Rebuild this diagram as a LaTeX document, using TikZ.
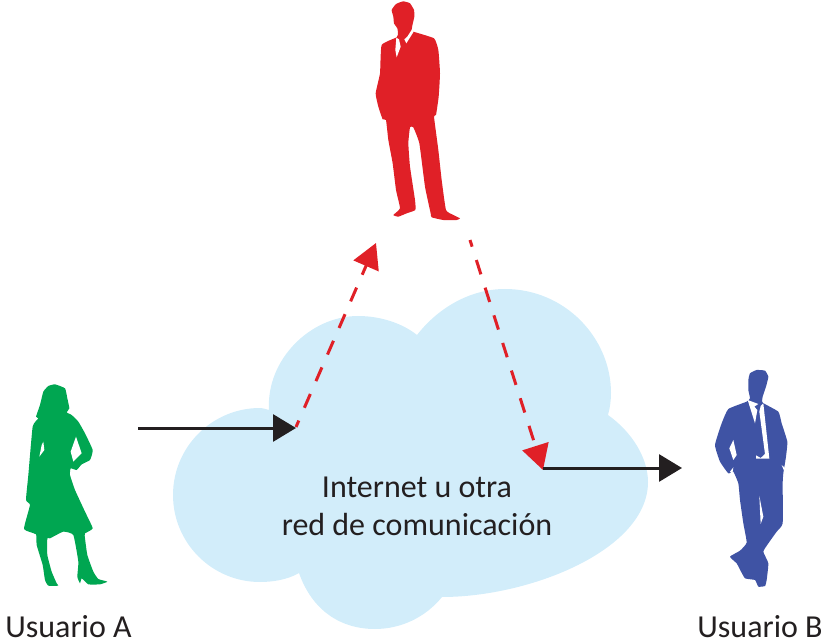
\documentclass[tikz,border=0pt]{standalone}
\usepackage{fontspec}
\setmainfont{Carlito}
\usetikzlibrary{arrows.meta}
\definecolor{cred}{HTML}{E02027}
\definecolor{cgreen}{HTML}{00A651}
\definecolor{cblue}{HTML}{3F53A4}
\definecolor{ccloud}{HTML}{D2EDFA}
\definecolor{cblack}{HTML}{231F20}
\tikzset{
  flow/.style={line width=3pt,cblack,-{Triangle[length=23pt,width=27pt]}},
  tap/.style={line width=3pt,cred,dash pattern=on 15pt off 14pt,dash phase=8pt,-{Triangle[length=25pt,width=27pt]}},
  sil/.style={tension=.25},
  lab/.style={font=\fontsize{32}{38}\selectfont,text=cblack,inner sep=0pt,anchor=base}
}
\begin{document}
\begin{tikzpicture}[x=1pt,y=-1pt]
\useasboundingbox (0,0) rectangle (822,644);
% cloud
\fill[ccloud] (269,410) .. controls (266,360) and (310,316) .. (358,316)
 .. controls (380,316) and (402,323) .. (417,335)
 .. controls (438,308) and (470,289) .. (505,289)
 .. controls (565,289) and (611,338) .. (611,393)
 .. controls (611,400) and (610,408) .. (608,415)
 .. controls (632,432) and (648,458) .. (648,482)
 .. controls (648,550) and (530,597) .. (442,597)
 .. controls (425,618) and (400,629) .. (375,629)
 .. controls (340,629) and (312,610) .. (299,573)
 .. controls (287,580) and (272,582) .. (260,582)
 .. controls (212,582) and (173,543) .. (173,495)
 .. controls (173,447) and (212,408) .. (260,408)
 .. controls (262,408) and (266,409) .. (269,410) -- cycle;
% red man
\begin{scope}[shift={(360,0)},scale=1/3]
\fill[cred] plot[smooth cycle,sil] coordinates {
 (100,50) (95,30) (108,12) (130,4) (150,10) (162,30) (163,50) (158,72) (155,90) (160,95)
 (222,115) (235,150) (240,220) (236,290) (228,345) (222,350) (235,450) (245,540) (258,630)
 (280,645) (300,655) (290,660) (250,660) (215,652) (212,640) (195,560) (178,430) (160,382)
 (150,382) (145,430) (150,500) (165,600) (166,630) (140,640) (115,650) (100,645) (120,625)
 (108,570) (98,490) (85,420) (78,360) (68,358) (55,320) (47,280) (60,220) (65,135) (110,112)
 (114,100) (112,85) (102,70)};
\fill[white] (109,113) -- (106,150) -- (110,172) -- (122,140) -- (117,118) -- cycle;
\fill[white] (133,118) -- (139,130) -- (161,95) -- (156,88) -- (142,110) -- cycle;
\end{scope}
% green woman
\begin{scope}[shift={(10,375)},scale=1/3]
\fill[cgreen] plot[smooth cycle,sil] coordinates {
 (135,28) (165,40) (172,70) (178,100) (170,112) (185,120) (205,140) (225,175) (248,225) (240,255)
 (215,268) (200,285) (182,280) (180,300) (195,345) (225,410) (248,460) (225,475)
 (224,482) (232,540) (250,590) (265,612) (292,620) (270,628) (235,628)
 (215,610) (210,625) (202,605) (205,560) (190,480) (160,470) (120,490) (112,490) (112,540)
 (125,590) (140,625) (145,632) (115,632) (105,615) (98,570) (80,510) (78,478) (42,462) (60,390)
 (48,375) (55,300) (68,155) (85,130) (78,125) (90,90) (100,50) (115,33)};
\fill[white] (100,200) -- (103,225) -- (88,245) -- (95,210) -- cycle;
\fill[white] (198,185) -- (215,235) -- (190,260) -- (182,230) -- cycle;
\end{scope}
% blue man
\begin{scope}[shift={(700,360)},scale=1/3]
\fill[cblue] plot[smooth cycle,sil] coordinates {
 (145,60) (150,40) (170,30) (195,32) (205,50) (198,80) (188,110) (188,128) (235,155) (245,190)
 (262,245) (258,290) (250,340) (248,370) (248,490) (230,515) (205,550) (190,575) (205,610)
 (200,660) (195,678) (175,680) (165,660) (135,655) (118,625) (110,610) (90,590) (120,572)
 (140,548) (130,490) (120,420) (115,370) (100,335) (85,340) (60,305) (45,255) (65,190) (85,147)
 (140,125) (150,115) (145,90)};
\fill[white] (143,120) -- (165,190) -- (172,150) -- (163,140) -- (175,132) -- cycle;
\fill[white] (182,138) -- (190,130) -- (208,296) -- (168,296) -- (168,286) -- (182,294) -- (195,282) -- (178,155) -- cycle;
\fill[white] (88,265) -- (100,240) -- (110,285) -- (100,300) -- cycle;
\fill[white] (178,408) -- (190,470) -- (182,492) -- (180,450) -- cycle;
\fill[white] (90,335) -- (100,322) -- (97,342) -- cycle;
\fill[white] (245,315) -- (256,325) -- (252,332) -- cycle;
\end{scope}
% connectors
\coordinate (inS) at (138,428);
\coordinate (inE) at (296,428);
\coordinate (tapS) at (296,427);
\coordinate (tapE) at (376,243);
\coordinate (dropS) at (470,240);
\coordinate (dropE) at (543,470);
\coordinate (outS) at (543,468);
\coordinate (outE) at (682,468);
\draw[tap] (tapS) -- (tapE);
\draw[tap] (dropS) -- (dropE);
\draw[flow] (inS) -- (inE);
\draw[flow] (outS) -- (outE);
% labels
\node[lab] (net1) at (417,497) {Internet u otra};
\node[lab] (net2) at (417,535) {red de comunicación};
\node[lab] (ua) at (68.5,637) {Usuario A};
\node[lab] (ub) at (760,637) {Usuario B};
\end{tikzpicture}
\end{document}
